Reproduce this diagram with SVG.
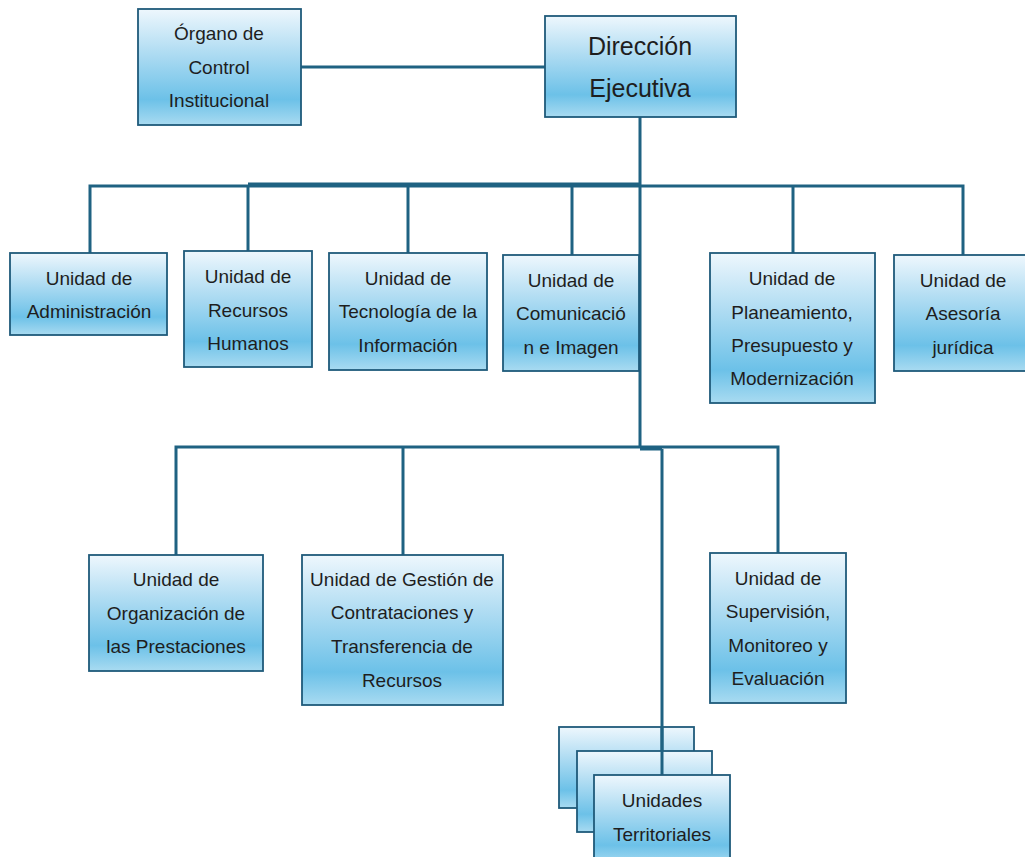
<svg xmlns="http://www.w3.org/2000/svg" width="1025" height="857" viewBox="0 0 1025 857">
<defs>
<linearGradient id="g" x1="0" y1="0" x2="0" y2="1">
<stop offset="0" stop-color="#eef7fd"/>
<stop offset="0.35" stop-color="#b4def3"/>
<stop offset="0.78" stop-color="#6cc1e8"/>
<stop offset="1" stop-color="#a9dbf1"/>
</linearGradient>
<style>
.b{fill:url(#g);stroke:#1f5a7a;stroke-width:1.8}
.t{font-family:"Liberation Sans",Arial,sans-serif;font-size:19px;fill:#1e1e1e;text-anchor:middle}
.h{font-size:25px}
.c{stroke:#1f6282;stroke-width:3;fill:none}
</style>
</defs>
<rect width="1025" height="857" fill="#ffffff"/>
<g id="connectors">
<path class="c" d="M301 67H545"/>
<path class="c" d="M640 117V447"/>
<path class="c" d="M90 253V186H963V255"/>
<path class="c" d="M248 184H640"/>
<path class="c" d="M248 186V251"/>
<path class="c" d="M408 186V253"/>
<path class="c" d="M572 186V255"/>
<path class="c" d="M793 186V253"/>
<path class="c" d="M176 555V447H778V553"/>
<path class="c" d="M640 449H662"/>
<path class="c" d="M403 447V555"/>
</g>
<g id="organo">
<rect class="b" x="138" y="9" width="163" height="116"/>
<text class="t" x="219" y="40">Órgano de</text>
<text class="t" x="219" y="74">Control</text>
<text class="t" x="219" y="107">Institucional</text>
</g>
<g id="direccion">
<rect class="b" x="545" y="16" width="191" height="101"/>
<text class="t h" x="640" y="55">Dirección</text>
<text class="t h" x="640" y="97">Ejecutiva</text>
</g>
<g id="administracion">
<rect class="b" x="10" y="253" width="157" height="82"/>
<text class="t" x="89" y="285">Unidad de</text>
<text class="t" x="89" y="318">Administración</text>
</g>
<g id="rrhh">
<rect class="b" x="184" y="251" width="128" height="116"/>
<text class="t" x="248" y="283">Unidad de</text>
<text class="t" x="248" y="317">Recursos</text>
<text class="t" x="248" y="350">Humanos</text>
</g>
<g id="tecnologia">
<rect class="b" x="329" y="253" width="158" height="117"/>
<text class="t" x="408" y="285">Unidad de</text>
<text class="t" x="408" y="318">Tecnología de la</text>
<text class="t" x="408" y="352">Información</text>
</g>
<g id="comunicacion">
<rect class="b" x="503" y="255" width="136" height="116"/>
<text class="t" x="571" y="287">Unidad de</text>
<text class="t" x="571" y="320">Comunicació</text>
<text class="t" x="571" y="354">n e Imagen</text>
</g>
<g id="planeamiento">
<rect class="b" x="710" y="253" width="165" height="150"/>
<text class="t" x="792" y="285">Unidad de</text>
<text class="t" x="792" y="319">Planeamiento,</text>
<text class="t" x="792" y="352">Presupuesto y</text>
<text class="t" x="792" y="385">Modernización</text>
</g>
<g id="asesoria">
<rect class="b" x="894" y="255" width="133" height="116"/>
<text class="t" x="963" y="287">Unidad de</text>
<text class="t" x="963" y="320">Asesoría</text>
<text class="t" x="963" y="354">jurídica</text>
</g>
<g id="organizacion">
<rect class="b" x="89" y="555" width="174" height="116"/>
<text class="t" x="176" y="586">Unidad de</text>
<text class="t" x="176" y="620">Organización de</text>
<text class="t" x="176" y="653">las Prestaciones</text>
</g>
<g id="gestion">
<rect class="b" x="302" y="555" width="201" height="150"/>
<text class="t" x="402" y="586">Unidad de Gestión de</text>
<text class="t" x="402" y="619">Contrataciones y</text>
<text class="t" x="402" y="653">Transferencia de</text>
<text class="t" x="402" y="687">Recursos</text>
</g>
<g id="supervision">
<rect class="b" x="710" y="553" width="136" height="150"/>
<text class="t" x="778" y="585">Unidad de</text>
<text class="t" x="778" y="618">Supervisión,</text>
<text class="t" x="778" y="652">Monitoreo y</text>
<text class="t" x="778" y="685">Evaluación</text>
</g>
<g id="territoriales">
<rect class="b" x="559" y="727" width="135" height="81"/>
<path class="c" d="M662 727V751"/>
<rect class="b" x="577" y="751" width="135" height="81"/>
<path class="c" d="M662 449V775"/>
<rect class="b" x="594" y="775" width="136" height="90"/>
<text class="t" x="662" y="807">Unidades</text>
<text class="t" x="662" y="841">Territoriales</text>
</g>
</svg>
